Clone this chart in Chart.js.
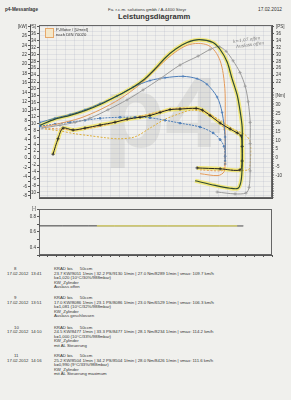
<!DOCTYPE html>
<html><head><meta charset="utf-8">
<script src="https://cdn.jsdelivr.net/npm/chart.js@4/dist/chart.umd.min.js"></script>
<style>
html,body{margin:0;padding:0;background:#f0f0ed;width:291px;height:400px;overflow:hidden;font-family:"Liberation Sans",Arial,sans-serif;color:#333}
.t{position:absolute;white-space:nowrap;font-size:4.3px;line-height:1}
.b{font-weight:bold}
#wm{position:absolute;left:104px;top:62px;font-size:100px;font-weight:bold;color:rgba(120,120,120,0.15);line-height:1}
#main{position:absolute;left:0;top:14px}
#sub{position:absolute;left:0;top:205px}
#leg{position:absolute;left:45px;top:28px;width:7px;height:8px;border:1px solid #e6a86a;background:#f4e7c8}
.hw{position:absolute;font-family:"DejaVu Serif",serif;font-style:italic;font-size:4.2px;color:#777;white-space:nowrap;transform:rotate(-8deg)}
</style></head>
<body>
<div id="wm">p4</div>
<div class="t b" style="left:5px;top:7.5px;font-size:4.6px">p4-Messanlage</div>
<div class="t" style="left:108px;top:7.5px;font-size:4.4px">Fa. r.c.m. solutions gmbh / A-4400 Steyr</div>
<div class="t" style="left:258px;top:7.5px;font-size:4.8px">17.02.2012</div>
<div class="t b" style="left:118px;top:12.5px;font-size:7.6px">Leistungsdiagramm</div>
<canvas id="main" width="291" height="189"></canvas>
<div id="leg"></div>
<div class="t" style="left:56px;top:28px;font-size:4.2px">P-Motor / [Umrel]</div>
<div class="t" style="left:56px;top:32.5px;font-size:4.2px">nach DIN 70020</div>
<div class="hw" style="left:233px;top:37px">k=1,07 offen</div>
<div class="hw" style="left:236px;top:42px">Auslass offen</div>
<canvas id="sub" width="291" height="58"></canvas>
<div id="blocks"></div>
<script>
// ---------- data ----------
const xTickValues = [4500,5000,5500,6000,6500,7000,7500,8000,8500,9000,9500,10000,10500];
const xTickLabels = ['4500','[1/min]','5500','6000','6500','7000','7500','8000','8500','9000','9500','10000','10500'];

// power [kW]
const P8_rpm  = [4085,4590,5015,5435,5945,6480,6930,7410,7970,8480,8815,9070,9270,9465,9660,9805,9890,9945,9945,9945,9915,9830,9520,9015];
const P8_kw   = [6.4,7.0,7.6,8.5,10.3,12.4,14.5,16.9,19.8,21.7,23.1,23.7,22.7,20.7,18.2,15.3,12.0,7.6,3.1,-2.7,-6.2,-7.4,-7.6,-7.2];
const P9_rpm  = [4030,4450,4875,5295,5720,6195,6650,7125,7550,8055,8450,8730,9015,9155,9240,9240];
const P9_kw   = [7.6,8.5,9.3,10.3,11.6,13.2,15.1,16.5,17.1,17.4,16.9,15.7,13.0,9.7,4.5,-0.6];
const P10_rpm = [4085,4590,5155,5720,6280,6845,7410,7830,8170,8480,8760,8960,9100,9185,9240,9240,9240,9210,9040,8535];
const P10_kw  = [6.6,7.4,8.5,10.3,12.6,15.7,19.8,22.5,24.0,24.4,24.0,22.7,20.7,18.0,13.8,6.6,-0.6,-2.9,-3.7,-3.3];
const P11_rpm = [4030,4450,4875,5295,5720,6195,6650,6985,7270,7550,7830,8170,8505,8900,9100,9295,9435,9580,9660,9720,9720,9720,9690,9605,9380,8960,8395];
const P11_kw  = [7.0,8.3,9.1,10.1,11.4,13.2,15.1,16.9,19.0,21.3,23.1,24.6,25.2,24.6,23.1,20.5,16.9,13.4,10.1,6.6,2.5,-1.7,-4.8,-6.4,-6.4,-5.8,-4.8];

// torque [Nm]
const T8_rpm  = [4170,4590,5015,5435,5860,6280,6705,7125,7550,7970,8290,8675,9100,9465,9805,9945,9945,9890,9380];
const T8_nm   = [16.4,15.3,13.7,12.6,11.5,10.9,12.0,16.9,21.9,25.1,27.0,25.7,21.3,16.4,13.1,9.3,-3.3,-6.6,-6.6];
const T9_rpm  = [4030,4450,4875,5295,5720,6280,6705,7125,7550,7970,8535,8900,9100,9210,9240,9240];
const T9_nm   = [18.0,19.1,20.2,21.3,22.4,23.0,23.0,22.7,21.3,19.7,17.5,14.2,10.4,6.6,1.1,-3.3];
const T10_rpm = [4170,4590,5015,5435,5860,6280,6845,7410,7830,8225,8535,8815,9040,9185,9240,9240,9210,9155,8535];
const T10_nm  = [16.9,16.4,15.8,16.9,18.6,20.8,23.5,26.2,27.9,28.1,27.3,24.6,21.3,17.5,12.0,1.1,-5.5,-7.1,-6.6];
const T11_rpm = [4395,4535,4675,4960,5295,5720,6140,6480,6845,7125,7410,7690,7970,8425,8600,8815,9100,9380,9580,9690,9720,9720,9660,9100,8450];
const T11_nm  = [2.2,10.9,16.9,15.8,16.9,18.6,20.2,21.9,23.0,24.0,25.7,27.3,27.6,28.0,27.0,24.0,19.7,16.4,14.2,12.6,6.6,-1.6,-6.6,-6.0,-5.5];

// lower panel [-]
const F_dark_rpm = [4000,9750],  F_dark = [0.69,0.69];
const F_yel_rpm  = [5630,9580],  F_yel  = [0.69,0.69];
const F_gray_rpm = [9580,9750],  F_gray = [0.69,0.69];

// run info
const runNo    = ['8','9','10','11'];
const runTime  = ['13:41','13:51','14:10','14:16'];
const runVals  = ['23.7 KW/9051 1/min  |  32.2 PS/9130 1/min  |  27.0 Nm/8289 1/min  |  vmax: 109.7 km/h',
                  '17.0 KW/8086 1/min  |  23.1 PS/8086 1/min  |  23.0 Nm/6529 1/min  |  vmax: 106.3 km/h',
                  '24.5 KW/8477 1/min  |  33.3 PS/8477 1/min  |  28.1 Nm/8234 1/min  |  vmax: 114.2 km/h',
                  '25.2 KW/8504 1/min  |  34.2 PS/8504 1/min  |  28.0 Nm/8426 1/min  |  vmax: 111.6 km/h'];
const runK     = ['k=1,020 (10°C/30%/988mbar)','k=1,081 (10°C/32%/988mbar)','k=1,000 (10°C/33%/988mbar)','k=0,990 (9°C/33%/988mbar)'];
const runNote  = ['Auslass offen','Auslass geschlossen','mit AL Steuerung','mit AL Steuerung maximum'];

// ---------- text blocks ----------
const bases = [267, 296, 325.5, 354];
let html = '';
runNo.forEach((n, i) => {
  const b = bases[i];
  html += `<div class="t" style="left:14px;top:${b}px">${n}</div>`;
  html += `<div class="t" style="left:54px;top:${b}px">KRAD bis &nbsp;&nbsp;&nbsp;&nbsp; 50ccm</div>`;
  html += `<div class="t" style="left:7px;top:${b+4.5}px">17.02.2012&nbsp; ${runTime[i]}</div>`;
  html += `<div class="t" style="left:54px;top:${b+4.5}px">${runVals[i]}</div>`;
  html += `<div class="t" style="left:54px;top:${b+9}px">${runK[i]}</div>`;
  html += `<div class="t" style="left:54px;top:${b+13.5}px">KW_Zylinder</div>`;
  html += `<div class="t" style="left:54px;top:${b+18}px">${runNote[i]}</div>`;
});
document.getElementById('blocks').innerHTML = html;

// ---------- charts ----------
Chart.defaults.font.family = "'Liberation Sans', Arial, sans-serif";
Chart.defaults.color = '#333';
const F = {size: 4.5};
const axisCol = '#555';
const gridCol = 'rgba(150,155,175,0.17)';
const xLabel = v => { const i = xTickValues.indexOf(v); return i < 0 ? '' : xTickLabels[i]; };

function ds(label, xs, ys, color, yAxisID, extra) {
  return Object.assign({label, data: xs.map((x, i) => ({x, y: ys[i]})), borderColor: color, backgroundColor: color,
    yAxisID, xAxisID: 'x', borderWidth: 1, pointRadius: 0, tension: 0.3, fill: false, order: 1}, extra || {});
}
const frame = {id: 'frame', beforeDatasetsDraw(c) {
  const {ctx, chartArea: a} = c; ctx.save(); ctx.strokeStyle = '#666'; ctx.lineWidth = 1;
  ctx.strokeRect(Math.round(a.left) + 0.5, Math.round(a.top) + 0.5, Math.round(a.width) - 1, Math.round(a.height) - 1); ctx.restore(); }};

const halo = 'rgba(242,230,105,0.85)';
new Chart(document.getElementById('main'), {
  type: 'line',
  data: {datasets: [
    ds('P11 halo', P11_rpm, P11_kw, halo, 'y', {borderWidth: 4, order: 9}),
    ds('T11 halo', T11_rpm, T11_nm, halo, 'nm', {borderWidth: 4, order: 9}),
    ds('P8', P8_rpm, P8_kw, '#9a9a9a', 'y', {pointStyle: 'cross', pointRadius: 1.6, pointBorderWidth: 0.8}),
    ds('P9', P9_rpm, P9_kw, '#4c7db8', 'y', {pointStyle: 'cross', pointRadius: 1.3, pointBorderWidth: 0.7}),
    ds('P10', P10_rpm, P10_kw, '#e49a5a', 'y'),
    ds('P11', P11_rpm, P11_kw, '#2e4a34', 'y', {borderWidth: 1.2, order: 0}),
    ds('T8', T8_rpm, T8_nm, '#dcae3c', 'nm', {borderDash: [2, 1.5]}),
    ds('T9', T9_rpm, T9_nm, '#4c7db8', 'nm', {borderDash: [2, 1], pointRadius: 0.9}),
    ds('T10', T10_rpm, T10_nm, '#e49a5a', 'nm', {borderDash: [2, 1.5]}),
    ds('T11', T11_rpm, T11_nm, '#222', 'nm', {pointStyle: 'cross', pointRadius: 1.6, pointBorderWidth: 0.8, order: 0})
  ]},
  options: {
    responsive: false, animation: false, layout: {padding: 0},
    plugins: {legend: {display: false}, tooltip: {enabled: false}},
    scales: {
      x: {type: 'linear', position: 'bottom', min: 4000, max: 10560,
          ticks: {display: false, stepSize: 250, includeBounds: false},
          grid: {color: gridCol, drawTicks: false}, border: {color: axisCol},
          afterFit: s => { s.height = 0; }},
      x2: {type: 'linear', position: 'top', min: 4000, max: 10560,
          ticks: {stepSize: 500, includeBounds: false, autoSkip: false, maxRotation: 0, font: F, padding: 1, callback: xLabel},
          grid: {display: false}, border: {display: false},
          afterFit: s => { s.height = 11; }},
      y: {position: 'left', weight: 2, min: -8.47, max: 28.31,
          ticks: {stepSize: 1, includeBounds: false, autoSkip: false, font: F, padding: 1,
                  callback: v => { const r = Math.round(v); return r % 2 ? '' : (r === 28 ? '[kW]' : String(r)); }},
          grid: {color: gridCol, tickLength: 2, tickColor: axisCol}, border: {color: axisCol},
          afterFit: s => { s.width = 30; }},
      ps: {position: 'left', weight: 1, min: -11.52, max: 38.50,
          ticks: {stepSize: 2, includeBounds: false, autoSkip: false, font: F, padding: 1,
                  callback: v => { const r = Math.round(v); return r === 38 ? '[PS]' : String(r); }},
          grid: {drawOnChartArea: false, tickLength: 2, tickColor: axisCol}, border: {color: axisCol},
          afterFit: s => { s.width = 9; }},
      psR: {position: 'right', stack: 'right', stackWeight: 68, min: 19.39, max: 38.50,
          ticks: {stepSize: 2, includeBounds: false, autoSkip: false, font: F, padding: 2,
                  callback: v => { const r = Math.round(v); return r === 38 ? '[PS]' : (r >= 22 ? String(r) : ''); }},
          grid: {drawOnChartArea: false, tickLength: 2, tickColor: axisCol}, border: {color: axisCol},
          afterFit: s => { s.width = 19; }},
      nm: {position: 'right', stack: 'right', stackWeight: 110, min: -22.40, max: 37.70,
          ticks: {stepSize: 1, includeBounds: false, autoSkip: false, font: F, padding: 2,
                  callback: v => { const r = Math.round(v); if (r === 35) return '[Nm]'; return (r % 5 === 0 && r >= -10 && r <= 30) ? String(r) : ''; }},
          grid: {drawOnChartArea: false, tickLength: 1.5, tickColor: axisCol}, border: {color: axisCol},
          afterFit: s => { s.width = 19; }}
    }
  },
  plugins: [frame]
});

new Chart(document.getElementById('sub'), {
  type: 'line',
  data: {datasets: [
    ds('dark', F_dark_rpm, F_dark, '#3a3a3a', 'y', {order: 3}),
    ds('yellow', F_yel_rpm, F_yel, '#e8e070', 'y', {borderWidth: 1.4, order: 1}),
    ds('gray', F_gray_rpm, F_gray, '#9a9a9a', 'y', {borderWidth: 1.4, order: 1})
  ]},
  options: {
    responsive: false, animation: false, layout: {padding: {top: 4, right: 19, left: 0, bottom: 0}},
    plugins: {legend: {display: false}, tooltip: {enabled: false}},
    scales: {
      x: {type: 'linear', min: 4000, max: 10560,
          ticks: {stepSize: 250, includeBounds: false, autoSkip: false, maxRotation: 0, font: F, padding: 1, callback: xLabel},
          grid: {drawOnChartArea: false, tickLength: 2, tickColor: axisCol}, border: {color: axisCol},
          afterFit: s => { s.height = 8; }},
      y: {min: 0.31, max: 0.91,
          ticks: {stepSize: 0.1, includeBounds: false, autoSkip: false, font: F, padding: 1,
                  callback: v => { const r = Math.round(v * 10); return r === 9 ? '[-]' : (r % 2 === 0 ? (r / 10).toFixed(1) : ''); }},
          grid: {drawOnChartArea: false, tickLength: 2, tickColor: axisCol}, border: {color: axisCol},
          afterFit: s => { s.width = 39; }}
    }
  },
  plugins: [frame]
});
</script>
</body></html>
